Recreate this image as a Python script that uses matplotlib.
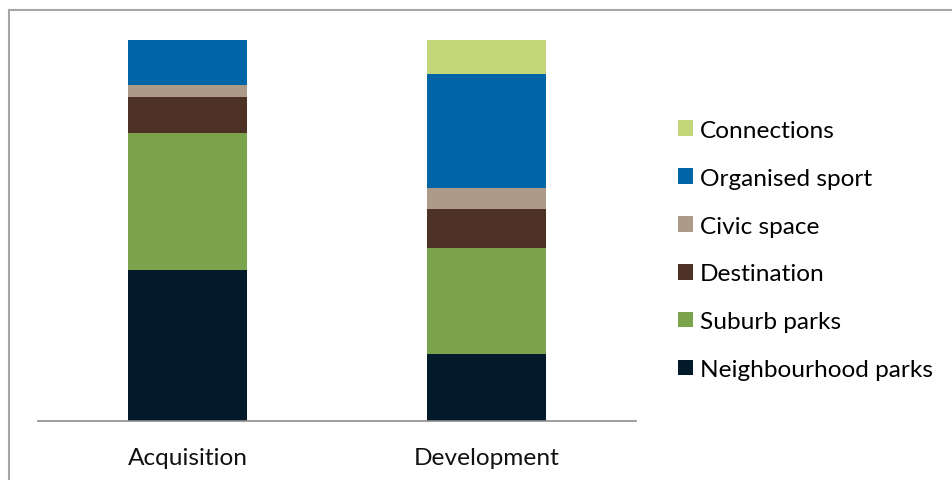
import matplotlib
matplotlib.use("Agg")
import matplotlib.pyplot as plt
from matplotlib.lines import Line2D
import numpy as np

plt.rcParams['font.family'] = ['Lato', 'DejaVu Sans']

categories = ['Acquisition', 'Development']
series = ['Neighbourhood parks', 'Suburb parks', 'Destination',
          'Civic space', 'Organised sport', 'Connections']
neighbourhood = [39.6, 17.6]
suburb = [36.0, 27.8]
destination = [9.5, 10.3]
civic = [3.0, 5.4]
organised = [11.9, 30.0]
connections = [0.0, 8.9]
values = [neighbourhood, suburb, destination, civic, organised, connections]
colors = ['#021a2a', '#7ba34b', '#4e3125', '#ac9b88', '#0065a6', '#c3d67a']

fig = plt.figure(figsize=(9.52, 4.81), dpi=100)
ax = fig.add_axes([38 / 952, 59 / 481, 598 / 952, 381 / 481])

x = np.arange(len(categories))
bottom = np.zeros(len(categories))
bars = []
for vals, col, name in zip(values, colors, series):
    b = ax.bar(x, vals, 0.4, bottom=bottom, color=col, label=name, linewidth=0)
    bars.append(b)
    bottom += np.array(vals)

ax.set_xlim(-0.5, 1.5)
ax.set_ylim(0, 100)
ax.set_xticks(x)
ax.set_xticklabels(categories, fontsize=17.6, color='#111111')
ax.tick_params(axis='x', length=0, pad=19)
ax.set_yticks([])
for s in ['left', 'right', 'top']:
    ax.spines[s].set_visible(False)
ax.spines['bottom'].set_color('#8c8c8c')
ax.spines['bottom'].set_linewidth(1.2)

ax.legend(bars[::-1], series[::-1], loc='center left',
          bbox_to_anchor=(678 / 952, (481 - 251) / 481),
          bbox_transform=fig.transFigure, frameon=False,
          fontsize=17.6, handlelength=0.6, handleheight=0.6,
          handletextpad=0.3, labelspacing=1.1, borderpad=0,
          borderaxespad=0)

# outer chart frame (only top and left edges are visible in the crop)
fig.add_artist(Line2D([9 / 952, 9 / 952], [0, 1 - 11 / 481],
                      transform=fig.transFigure, color='#a6a6a6', lw=1.5))
fig.add_artist(Line2D([9 / 952, 1], [1 - 11 / 481, 1 - 11 / 481],
                      transform=fig.transFigure, color='#a6a6a6', lw=1.5))

fig.savefig('out.png', dpi=100)
